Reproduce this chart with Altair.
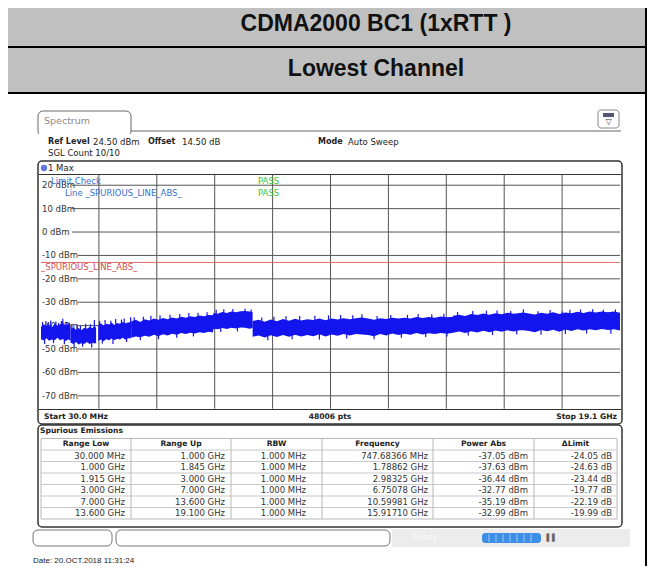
import altair as alt
import pandas as pd

OFF = 8            # page margin: page coordinate = chart coordinate + OFF
W, H = 639, 558

# ---------------- chart values ----------------
title_main = "CDMA2000 BC1 (1xRTT )"
title_sub = "Lowest Channel"

ref_level = 24.5
db_bottom = -75.5
db_ticks = [20, 10, 0, -10, -20, -30, -40, -50, -60, -70]
limit_dbm = -13.0
f_start, f_stop = 0.03, 19.1          # GHz
n_div = 10

# max-hold trace envelope (upper / lower edge of the dense noise band), per measured range
r1_f = [0.03, 0.12, 0.21, 0.30, 0.39, 0.48, 0.57, 0.66, 0.748, 0.84, 0.93, 1.0]
r1_hi = [-40.6, -39.4, -40.2, -39.6, -40.8, -39.2, -39.9, -39.6, -39.0, -39.8, -39.3, -40.3]
r1_lo = [-45.8, -46.4, -45.4, -46.5, -45.9, -46.2, -45.2, -46.3, -45.7, -46.6, -45.9, -46.4]

r2_f = [1.0, 1.09, 1.18, 1.27, 1.36, 1.45, 1.54, 1.63, 1.72, 1.789, 1.845]
r2_hi = [-41.5, -40.8, -41.8, -41.0, -42.0, -40.9, -41.3, -40.6, -41.1, -40.2, -40.9]
r2_lo = [-47.2, -47.9, -47.0, -48.1, -47.5, -47.8, -47.0, -47.9, -47.3, -47.6, -47.4]

r3_f = [1.915, 2.0, 2.09, 2.18, 2.27, 2.36, 2.45, 2.54, 2.63, 2.72, 2.81, 2.9, 2.983, 3.0]
r3_hi = [-39.8, -39.0, -40.1, -39.2, -39.5, -38.8, -39.7, -38.9, -39.2, -38.5, -39.0, -38.7,
         -38.4, -38.6]
r3_lo = [-46.6, -45.9, -46.7, -45.8, -46.2, -45.5, -46.3, -45.6, -45.9, -45.2, -46.0, -45.4,
         -45.4, -45.0]

r4_f = [3.0, 3.15, 3.3, 3.45, 3.6, 3.75, 3.9, 4.05, 4.2, 4.35, 4.5, 4.65, 4.8, 4.95, 5.1,
        5.25, 5.4, 5.55, 5.68, 5.72, 5.85, 6.0, 6.15, 6.3, 6.45, 6.6, 6.751, 6.9, 7.0]
r4_hi = [-38.2, -37.5, -38.4, -37.3, -37.8, -37.0, -37.5, -36.7, -37.3, -36.5, -36.9, -36.2,
         -36.6, -36.0, -36.3, -35.7, -36.0, -35.5, -35.6, -34.6, -34.9, -34.2, -34.6, -34.0,
         -34.3, -33.9, -33.8, -34.0, -34.2]
r4_lo = [-45.2, -44.6, -45.0, -44.3, -44.7, -43.9, -44.5, -43.7, -44.2, -43.5, -43.9, -43.2,
         -43.6, -43.0, -43.4, -42.8, -43.2, -42.6, -42.9, -41.3, -41.6, -41.0, -41.4, -40.9,
         -41.2, -40.8, -40.9, -41.3, -41.0]

r5_f = [7.0, 7.2, 7.4, 7.6, 7.8, 8.0, 8.2, 8.4, 8.6, 8.8, 9.0, 9.2, 9.4, 9.6, 9.8, 10.0,
        10.2, 10.4, 10.6, 10.8, 11.0, 11.2, 11.4, 11.6, 11.8, 12.0, 12.2, 12.4, 12.6, 12.8,
        13.0, 13.2, 13.4, 13.6]
r5_hi = [-38.0, -37.5, -38.3, -37.4, -38.1, -37.2, -37.9, -37.1, -37.8, -37.3, -37.6, -37.0,
         -37.7, -37.0, -37.4, -36.8, -37.3, -36.8, -36.5, -36.9, -37.5, -36.8, -37.2, -36.6,
         -37.0, -36.6, -36.9, -36.3, -36.7, -36.3, -36.6, -36.1, -36.4, -36.2]
r5_lo = [-44.8, -44.2, -45.1, -44.1, -44.9, -44.0, -44.7, -43.9, -44.6, -44.0, -44.5, -43.7,
         -44.6, -43.8, -44.3, -43.6, -44.2, -43.6, -43.8, -44.0, -44.5, -43.6, -44.2, -43.4,
         -44.0, -43.5, -43.9, -43.2, -43.8, -43.3, -43.6, -43.1, -43.5, -43.0]

r6_f = [13.6, 13.8, 14.0, 14.2, 14.4, 14.6, 14.8, 15.0, 15.2, 15.4, 15.6, 15.8, 15.917, 16.1,
        16.3, 16.5, 16.7, 16.9, 17.1, 17.3, 17.5, 17.7, 17.9, 18.1, 18.3, 18.5, 18.7, 18.9, 19.1]
r6_hi = [-35.8, -35.3, -35.9, -35.0, -35.5, -34.8, -35.3, -34.7, -35.1, -34.5, -34.9, -34.6,
         -34.4, -34.8, -35.2, -34.5, -34.9, -34.3, -35.0, -34.4, -34.7, -34.1, -34.6, -34.0,
         -34.4, -34.0, -34.3, -34.0, -34.5]
r6_lo = [-43.0, -42.5, -43.2, -42.4, -42.9, -42.2, -42.8, -42.1, -42.6, -42.0, -42.5, -42.0,
         -42.0, -42.3, -42.8, -41.9, -42.4, -41.8, -42.6, -41.7, -42.3, -41.6, -42.1, -41.5,
         -42.0, -41.4, -41.9, -41.5, -42.1]

# isolated max-hold spikes above / below the band (frequency GHz, dBm)
spk_up_f = [0.08, 0.19, 0.26, 0.35, 0.52, 0.61, 0.70, 0.748, 0.88, 0.97,
            1.05, 1.22, 1.33, 1.50, 1.66, 1.789,
            1.96, 2.14, 2.33, 2.49, 2.68, 2.77, 2.983,
            3.1, 3.4, 3.65, 3.95, 4.28, 4.6, 4.9, 5.2, 5.5, 5.8, 6.05, 6.35, 6.751, 6.95,
            7.3, 7.7, 8.1, 8.55, 9.05, 9.5, 9.9, 10.3, 10.6, 11.1, 11.55, 12.1, 12.45, 12.9, 13.3,
            13.75, 14.25, 14.7, 15.05, 15.5, 15.917, 16.4, 16.8, 17.2, 17.45, 17.8, 18.2, 18.55,
            18.95]
spk_up_v = [-38.5, -38.0, -39.0, -37.8, -38.2, -38.9, -38.0, -37.05, -38.3, -38.8,
            -39.8, -39.5, -40.0, -39.2, -39.4, -37.63,
            -38.0, -37.6, -37.9, -37.2, -37.4, -37.0, -36.44,
            -36.4, -36.2, -35.8, -35.6, -35.3, -35.0, -34.6, -34.5, -34.3, -33.2, -33.0, -32.9,
            -32.77, -33.1,
            -36.5, -36.2, -36.0, -35.9, -35.8, -35.6, -35.5, -35.6, -35.19, -35.9, -35.5, -35.4,
            -35.0, -35.1, -34.9,
            -34.2, -33.8, -33.6, -33.5, -33.7, -32.99, -33.9, -33.3, -34.0, -33.2, -33.1, -33.0,
            -33.2, -33.1]
spk_dn_f = [0.15, 0.44, 0.8, 1.12, 1.4, 1.7, 2.05, 2.4, 2.85, 3.3, 3.9, 4.5, 5.05, 5.95, 6.5,
            7.5, 8.3, 9.2, 10.1, 11.0, 11.9, 12.7, 13.4, 14.1, 14.9, 15.7, 16.5, 17.3, 18.0, 18.8]
spk_dn_v = [-47.8, -47.5, -48.0, -49.2, -49.0, -49.3, -47.6, -47.8, -47.0, -46.2, -45.8, -45.2,
            -44.6, -42.7, -42.5, -46.2, -45.8, -46.0, -45.5, -45.8, -45.2, -44.9, -44.6, -44.2,
            -44.0, -43.8, -43.9, -43.6, -43.4, -43.5]

table_header = ["Range Low", "Range Up", "RBW", "Frequency", "Power Abs", "\u0394Limit"]
range_low = ["30.000 MHz", "1.000 GHz", "1.915 GHz", "3.000 GHz", "7.000 GHz", "13.600 GHz"]
range_up = ["1.000 GHz", "1.845 GHz", "3.000 GHz", "7.000 GHz", "13.600 GHz", "19.100 GHz"]
rbw = ["1.000 MHz"] * 6
peak_freq = ["747.68366 MHz", "1.78862 GHz", "2.98325 GHz", "6.75078 GHz",
             "10.59981 GHz", "15.91710 GHz"]
power_abs = ["-37.05 dBm", "-37.63 dBm", "-36.44 dBm", "-32.77 dBm", "-35.19 dBm", "-32.99 dBm"]
delta_limit = ["-24.05 dB", "-24.63 dB", "-23.44 dB", "-19.77 dB", "-22.19 dB", "-19.99 dB"]

date_text = "Date: 20.OCT.2018  11:31:24"

# ---------------- layout (page pixels) ----------------
GX0, GX1 = 41, 620          # grid area left/right
GY0, GY1 = 174.7, 408.7     # grid area top (ref level) / bottom
FONT = "DejaVu Sans"
RB = 645                    # right document border (page x)
TRACE = "#1414ee"

xs = alt.Scale(domain=[f_start, f_stop], range=[GX0 - OFF, GX1 - OFF], nice=False, zero=False)
ys = alt.Scale(domain=[db_bottom, ref_level], range=[GY1 - OFF, GY0 - OFF], nice=False, zero=False)

one = pd.DataFrame({"a": [0]})
layers = []


def rect(x1, y1, x2, y2, fill="white", stroke=None, sw=1.0, r=0, fo=1.0):
    kw = dict(fill=fill, fillOpacity=fo, cornerRadius=r)
    if stroke:
        kw.update(stroke=stroke, strokeWidth=sw)
    else:
        kw.update(strokeWidth=0)
    layers.append(alt.Chart(one).mark_rect(**kw).encode(
        x=alt.value(x1 - OFF), x2=alt.value(x2 - OFF),
        y=alt.value(y1 - OFF), y2=alt.value(y2 - OFF)))


def hline(x1, x2, y, color, sw=1.0):
    layers.append(alt.Chart(one).mark_rule(color=color, strokeWidth=sw).encode(
        x=alt.value(x1 - OFF), x2=alt.value(x2 - OFF), y=alt.value(y - OFF)))


def vline(x, y1, y2, color, sw=1.0):
    layers.append(alt.Chart(one).mark_rule(color=color, strokeWidth=sw).encode(
        x=alt.value(x - OFF), y=alt.value(y1 - OFF), y2=alt.value(y2 - OFF)))


def texts(rows, size=8, bold=False, color="#222", align="left", font=FONT, baseline="middle"):
    df = pd.DataFrame(rows, columns=["px", "py", "t"])
    df["px"] = df["px"] - OFF
    df["py"] = df["py"] - OFF
    layers.append(alt.Chart(df).mark_text(
        fontSize=size, fontWeight="bold" if bold else "normal", color=color,
        align=align, baseline=baseline, font=font).encode(
        x=alt.X("px:Q", scale=None, axis=None),
        y=alt.Y("py:Q", scale=None, axis=None),
        text="t:N"))


# --- document header table ---
rect(8, 0, RB, 93, fill="#c0c0c0")
rect(8, 46, RB, 48, fill="#000000")
rect(8, 92, RB, 94, fill="#000000")
rect(RB, 0, RB + 3, 571, fill="#000000")
texts([(376, 24, title_main)], size=23, bold=True, color="#111", align="center",
      font="Liberation Sans")
texts([(376, 69, title_sub)], size=23, bold=True, color="#111", align="center",
      font="Liberation Sans")

# --- spectrum screen chrome ---
hline(126, 621, 131, "#666666", 1)
rect(38, 111, 131, 136, fill="white", stroke="#666666", sw=1, r=5)
rect(39, 131.5, 130, 137, fill="white")
texts([(44, 121, "Spectrum")], size=9.5, color="#8a8a8a")
rect(598, 110, 619, 128, fill="white", stroke="#888888", sw=1, r=3)
rect(603, 113, 614, 117, fill="#555577")
texts([(608.5, 122, "\u25bd")], size=8, color="#444", align="center")

texts([(48, 142, "Ref Level"), (148, 142, "Offset"), (318, 142, "Mode")], size=8, bold=True)
texts([(93, 142, "24.50 dBm"), (182, 142, "14.50 dB"), (348, 142, "Auto Sweep"),
       (48, 153, "SGL Count 10/10")], size=8.5)

# plot frame
rect(38, 161, 622, 424, fill="white", stroke="#333333", sw=1.5, r=4)
hline(39, 621, 174.5, "#333333", 1)
layers.append(alt.Chart(one).mark_point(filled=True, color="#2040d0", size=40).encode(
    x=alt.value(44 - OFF), y=alt.value(168 - OFF)))
texts([(48, 168, "1 Max")], size=8.5)

# grid
vdf = pd.DataFrame({"f": [f_start + k * (f_stop - f_start) / n_div for k in range(1, n_div)]})
layers.append(alt.Chart(vdf).mark_rule(color="#555555", strokeWidth=1).encode(
    x=alt.X("f:Q", scale=xs, axis=None),
    y=alt.value(GY0 - OFF), y2=alt.value(GY1 - OFF)))

lab = pd.DataFrame({"v": db_ticks, "t": [f"{v} dBm" for v in db_ticks]})
lab["x0"] = [72 - OFF if v >= 0 else 78 - OFF for v in db_ticks]
layers.append(alt.Chart(lab).mark_rule(color="#555555", strokeWidth=1).encode(
    y=alt.Y("v:Q", scale=ys, axis=None),
    x=alt.X("x0:Q", scale=None, axis=None), x2=alt.value(GX1 - OFF)))
layers.append(alt.Chart(lab).mark_text(fontSize=8.5, font=FONT, color="#333", align="left",
                                         baseline="middle").encode(
    y=alt.Y("v:Q", scale=ys, axis=None), x=alt.value(42 - OFF), text="t:N"))

# limit line
layers.append(alt.Chart(pd.DataFrame({"v": [limit_dbm]})).mark_rule(
    color="#e06a6a", strokeWidth=1).encode(
    y=alt.Y("v:Q", scale=ys, axis=None), x=alt.value(GX0 - OFF), x2=alt.value(GX1 - OFF)))
layers.append(alt.Chart(pd.DataFrame({"v": [limit_dbm]})).mark_text(
    fontSize=8.5, font=FONT, color="#d05050", align="left", baseline="top", dy=1).encode(
    y=alt.Y("v:Q", scale=ys, axis=None), x=alt.value(41 - OFF), text=alt.value("_SPURIOUS_LINE_ABS_")))

# trace: dense band + isolated spikes
segs = []
for i, (fs, hs, ls) in enumerate([(r1_f, r1_hi, r1_lo), (r2_f, r2_hi, r2_lo), (r3_f, r3_hi, r3_lo),
                                  (r4_f, r4_hi, r4_lo), (r5_f, r5_hi, r5_lo), (r6_f, r6_hi, r6_lo)]):
    segs.append(pd.DataFrame({"seg": i, "f": fs, "hi": hs, "lo": ls}))
trace = pd.concat(segs, ignore_index=True)
layers.append(alt.Chart(trace).mark_area(color=TRACE, opacity=1, interpolate="linear").encode(
    x=alt.X("f:Q", scale=xs, axis=None),
    y=alt.Y("hi:Q", scale=ys, axis=None), y2="lo:Q", detail="seg:N"))

spk_up = pd.DataFrame({"f": spk_up_f, "v": spk_up_v})
spk_up["base"] = spk_up["v"] - 4
spk_dn = pd.DataFrame({"f": spk_dn_f, "v": spk_dn_v})
spk_dn["base"] = spk_dn["v"] + 4
spikes = pd.concat([spk_up, spk_dn], ignore_index=True)
layers.append(alt.Chart(spikes).mark_rule(color=TRACE, strokeWidth=1.2).encode(
    x=alt.X("f:Q", scale=xs, axis=None),
    y=alt.Y("v:Q", scale=ys, axis=None), y2="base:Q"))

# limit check overlay text
texts([(51, 181, "Limit Check"), (65, 193, "Line _SPURIOUS_LINE_ABS_")], size=8.5, color="#3a6fd0")
texts([(258, 181, "PASS"), (258, 193, "PASS")], size=8.5, color="#3cc43c")

# bottom info row
hline(39, 621, 409.5, "#333333", 1)
texts([(44, 417, "Start 30.0 MHz")], size=7.6, bold=True)
texts([(330, 417, "48006 pts")], size=7.6, bold=True, align="center")
texts([(617, 417, "Stop 19.1 GHz")], size=7.6, bold=True, align="right")

# --- spurious emissions table ---
rect(38, 425, 622, 527, fill="white", stroke="#333333", sw=1.5, r=4)
texts([(40, 431, "Spurious Emissions")], size=7.6, bold=True)
col_edges = [41, 131, 231, 322, 433, 534, 617]
row_top, row_h = 438.5, 11.5
n_rows = len(range_low)
rect(41, row_top, 617, row_top + row_h * (n_rows + 1), fill="white", stroke="#b8b8b8", sw=1)
for k in range(1, n_rows + 1):
    hline(41, 617, row_top + row_h * k, "#c8c8c8", 1)
for e in col_edges[1:-1]:
    vline(e, row_top, row_top + row_h * (n_rows + 1), "#b8b8b8", 1)
hdr_rows = [((col_edges[j] + col_edges[j + 1]) / 2, row_top + row_h / 2, table_header[j])
            for j in range(6)]
texts(hdr_rows, size=7.6, bold=True, align="center")
cell_rows = []
right_pad = [6, 6, 16, 5, 6, 5]
for j, col in enumerate([range_low, range_up, rbw, peak_freq, power_abs, delta_limit]):
    for i, s in enumerate(col):
        cell_rows.append((col_edges[j + 1] - right_pad[j], row_top + row_h * (i + 1.5), s))
texts(cell_rows, size=8.5, color="#333", align="right")

# --- status bar ---
rect(392, 529, 630, 547, fill="#ececec")
rect(33, 530, 112, 546, fill="white", stroke="#777777", sw=1, r=5)
rect(116, 530, 390, 546, fill="white", stroke="#777777", sw=1, r=5)
texts([(425, 538, "Ready")], size=8, color="#f8f8f8", align="center")
rect(482, 533, 541, 543, fill="#3d8ee6", r=3)
for xx in [489, 496, 503, 510, 517, 524, 531]:
    vline(xx, 534, 542, "#9cc6f2", 1)
texts([(552, 538, "\u258c\u258c")], size=7, color="#666", align="center")

# --- date stamp ---
texts([(33, 561, date_text)], size=8, color="#222", font="Liberation Sans")

chart = alt.layer(*layers).resolve_scale(x="independent", y="independent").properties(
    width=W, height=H, padding=0, autosize=alt.AutoSizeParams(type="none"),
    background="white").configure_view(stroke=None)

chart.save("out.html", embed_options={"renderer": "svg", "actions": False})
